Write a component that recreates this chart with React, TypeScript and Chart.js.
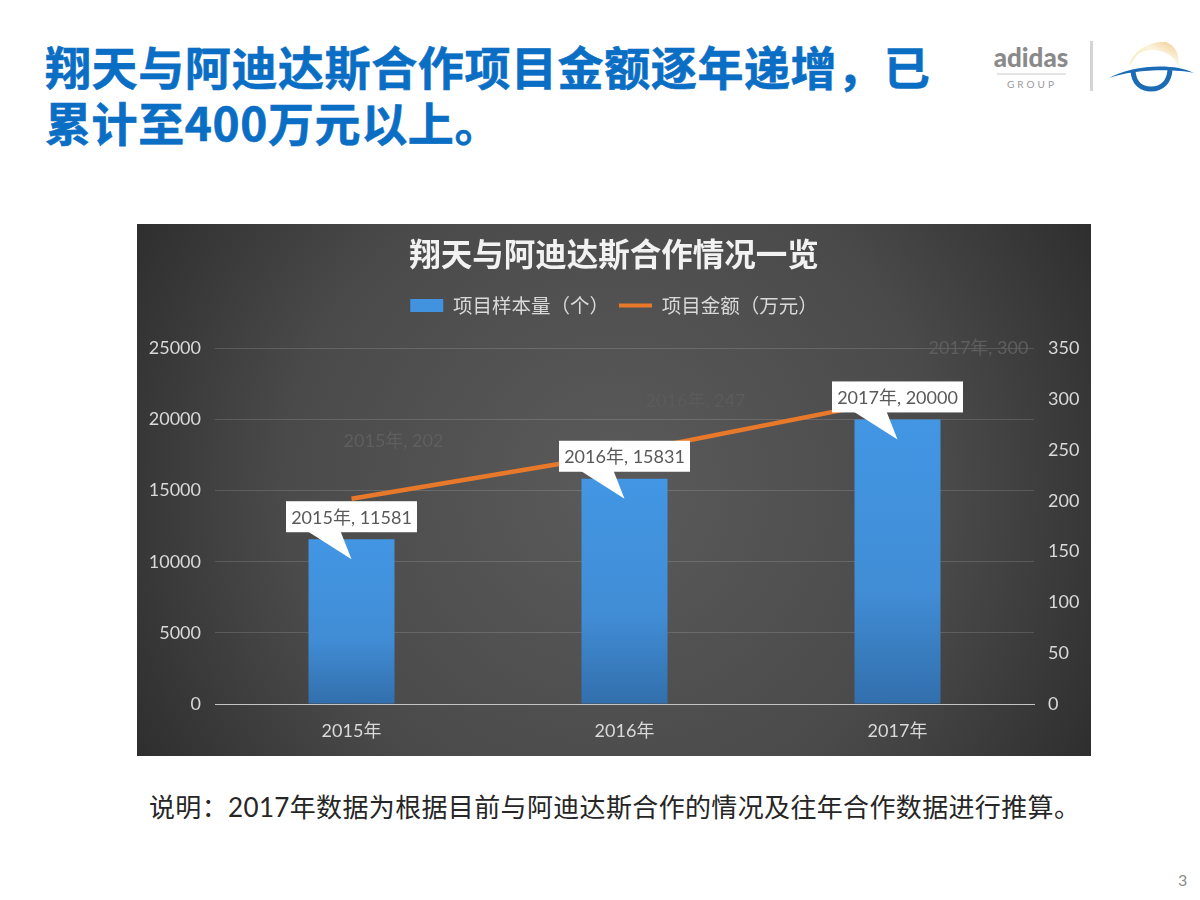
import { useEffect, useRef } from "react"
import { Chart, registerables } from "chart.js"

Chart.register(...registerables)

const years = ["2015年", "2016年", "2017年"]
const sampleCounts = [11581, 15831, 20000]
const projectAmounts = [202, 247, 300]

const FONT = 'Lato, "Noto Sans CJK SC", sans-serif'
const CJK = '"Noto Sans CJK SC", sans-serif'

// offset of the nearly invisible line labels, relative to their points
const ghostOffsets = [
  [42, -58],
  [71, -52],
  [81, -51],
]
const ghostColors = ["#5f5f5f", "#5b5b5b", "#5e5e5e"]

const backgroundPlugin = {
  id: "slideBackground",
  beforeDraw(chart: Chart) {
    const { ctx, width, height } = chart
    const g = ctx.createRadialGradient(width / 2, height / 2, 30, width / 2, height / 2, width * 0.6)
    g.addColorStop(0, "#595959")
    g.addColorStop(0.55, "#4a4a4a")
    g.addColorStop(1, "#2b2b2b")
    ctx.save()
    ctx.fillStyle = g
    ctx.fillRect(0, 0, width, height)
    ctx.restore()
  },
}

// leaves room under the legend, same trick as usual: patch legend.fit
const legendGapPlugin = {
  id: "legendGap",
  beforeInit(chart: any) {
    const origFit = chart.legend.fit
    chart.legend.fit = function () {
      origFit.bind(this)()
      this.height += 23
    }
  },
}

const calloutPlugin = {
  id: "callouts",
  afterDraw(chart: Chart) {
    const { ctx } = chart
    const bars = chart.getDatasetMeta(0).data
    const points = chart.getDatasetMeta(1).data
    ctx.save()
    ctx.textAlign = "center"
    ctx.textBaseline = "middle"
    ctx.font = `18px ${FONT}`

    points.forEach((p: any, i: number) => {
      ctx.fillStyle = ghostColors[i]
      ctx.fillText(`${years[i]}, ${projectAmounts[i]}`, p.x + ghostOffsets[i][0], p.y + ghostOffsets[i][1])
    })

    bars.forEach((b: any, i: number) => {
      const boxW = 131
      const boxH = 31
      const left = b.x - boxW / 2
      const top = b.y - 7 - boxH
      ctx.fillStyle = "#ffffff"
      ctx.fillRect(left, top, boxW, boxH)
      ctx.beginPath()
      ctx.moveTo(b.x - 44, top + boxH - 1)
      ctx.lineTo(b.x - 11, top + boxH - 1)
      ctx.lineTo(b.x, b.y + 20)
      ctx.closePath()
      ctx.fill()
      ctx.fillStyle = "#595959"
      ctx.fillText(`${years[i]}, ${sampleCounts[i]}`, b.x, top + boxH / 2 + 1)
    })
    ctx.restore()
  },
}

function ComboChart() {
  const chartRef = useRef<HTMLCanvasElement>(null)

  useEffect(() => {
    if (!chartRef.current) return
    const chart = new Chart(chartRef.current, {
      type: "bar",
      data: {
        labels: years,
        datasets: [
          {
            type: "bar",
            label: "项目样本量（个）",
            data: sampleCounts,
            yAxisID: "y",
            order: 2,
            categoryPercentage: 1,
            barPercentage: 0.315,
            backgroundColor: (c: any) => {
              const area = c.chart.chartArea
              if (!area || c.dataIndex === undefined) return "#4295e2"
              const top = c.chart.scales.y.getPixelForValue(sampleCounts[c.dataIndex])
              const g = c.chart.ctx.createLinearGradient(0, top, 0, area.bottom)
              g.addColorStop(0, "#4296e3")
              g.addColorStop(0.6, "#418dd6")
              g.addColorStop(1, "#326fac")
              return g
            },
          },
          {
            type: "line",
            label: "项目金额（万元）",
            data: projectAmounts,
            yAxisID: "y1",
            order: 1,
            borderColor: "#e8792a",
            borderWidth: 4.5,
            pointRadius: 0,
            tension: 0,
          },
        ],
      },
      options: {
        animation: false,
        responsive: false,
        layout: { padding: 0 },
        plugins: {
          tooltip: { enabled: false },
          title: {
            display: true,
            text: "翔天与阿迪达斯合作情况一览",
            color: "#f2f2f2",
            font: { family: CJK, size: 31.5, weight: "bold" },
            padding: { top: 11, bottom: 13 },
          },
          legend: {
            display: true,
            labels: {
              color: "#d9d9d9",
              font: { family: CJK, size: 19.5 },
              usePointStyle: true,
              pointStyleWidth: 33,
              boxHeight: 13,
              padding: 10,
              generateLabels: () => [
                { text: "项目样本量（个）", fillStyle: "#4193e0", strokeStyle: "#4193e0", lineWidth: 0, pointStyle: "rect", fontColor: "#d9d9d9" },
                { text: "项目金额（万元）", fillStyle: "#e8792a", strokeStyle: "#e8792a", lineWidth: 4, pointStyle: "line", fontColor: "#d9d9d9" },
              ],
            },
          },
        },
        scales: {
          x: {
            grid: { display: false, drawTicks: false },
            border: { color: "#c4c4c4", width: 1 },
            ticks: { color: "#d9d9d9", font: { family: FONT, size: 18 }, padding: 16 },
            afterFit: (s: any) => {
              s.height = 52
            },
          },
          y: {
            position: "left",
            min: 0,
            max: 25000,
            grid: { color: "rgba(255,255,255,0.14)", drawTicks: false },
            border: { display: false },
            ticks: { stepSize: 5000, color: "#d9d9d9", font: { family: FONT, size: 18 }, padding: 14, callback: (v: any) => String(v) },
            afterFit: (s: any) => {
              s.width = 78
            },
          },
          y1: {
            position: "right",
            min: 0,
            max: 350,
            grid: { display: false, drawTicks: false },
            border: { display: false },
            ticks: { stepSize: 50, color: "#d9d9d9", font: { family: FONT, size: 18 }, padding: 14, callback: (v: any) => String(v) },
            afterFit: (s: any) => {
              s.width = 57
            },
          },
        },
      },
      plugins: [legendGapPlugin, backgroundPlugin, calloutPlugin],
    } as any)
    return () => chart.destroy()
  }, [])

  return <canvas ref={chartRef} width={954} height={532} style={{ position: "absolute", left: 137, top: 224, display: "block" }} />
}

function Logos() {
  return (
    <svg width={240} height={90} viewBox="960 20 240 90" style={{ position: "absolute", left: 960, top: 20 }}>
      <defs>
        <linearGradient id="sunArc" x1="0" y1="1" x2="1" y2="0">
          <stop offset="0" stopColor="#f4e7a8" />
          <stop offset="0.6" stopColor="#fbf3dc" />
          <stop offset="1" stopColor="#f2c98c" />
        </linearGradient>
      </defs>
      <text x={1031} y={67} textAnchor="middle" fontFamily="Lato, sans-serif" fontWeight={900} fontSize={26} fill="#8a8a8a">adidas</text>
      <line x1={997} y1={74} x2={1066} y2={74} stroke="#c8c8c8" strokeWidth={1} />
      <text x={1032} y={88} textAnchor="middle" fontFamily="Lato, sans-serif" fontSize={10} letterSpacing={3} fill="#999999">GROUP</text>
      <rect x={1090} y={41} width={3} height={50} fill="#d4d4d4" />
      <path d="M1129 66 C1134 48 1152 41 1166 42 C1176 46 1180 56 1178 66 C1172 50 1150 46 1138 54 C1134 58 1132 62 1129 66 Z" fill="url(#sunArc)" />
      <path d="M1109 78 C1130 66 1172 62 1194 73 C1172 68 1130 70 1109 78 Z" fill="#1b6bb5" />
      <path d="M1133 71 C1134 84 1142 89 1151 89 C1162 89 1169 82 1170 70" fill="none" stroke="#1b6bb5" strokeWidth={5} />
    </svg>
  )
}

export default function App() {
  return (
    <div style={{ position: "absolute", left: 0, top: 0, width: 1200, height: 900, overflow: "hidden", background: "#ffffff" }}>
      <div style={{ position: "absolute", left: 45, top: 37, width: 900, fontFamily: CJK, fontWeight: 700, fontSize: 46, lineHeight: "56px", letterSpacing: 0.6, color: "#0a6ec4", whiteSpace: "nowrap", WebkitTextStroke: "0.6px #0a6ec4" }}>
        翔天与阿迪达斯合作项目金额逐年递增，已
        <br />
        累计至400万元以上。
      </div>
      <Logos />
      <ComboChart />
      <div style={{ position: "absolute", left: 149, top: 789, fontFamily: FONT, fontSize: 26, lineHeight: "36px", letterSpacing: 0.35, color: "#262626", whiteSpace: "nowrap" }}>
        说明：2017年数据为根据目前与阿迪达斯合作的情况及往年合作数据进行推算。
      </div>
      <div style={{ position: "absolute", left: 1178, top: 870, fontFamily: FONT, fontSize: 16, lineHeight: "20px", color: "#8c8c8c" }}>3</div>
    </div>
  )
}
